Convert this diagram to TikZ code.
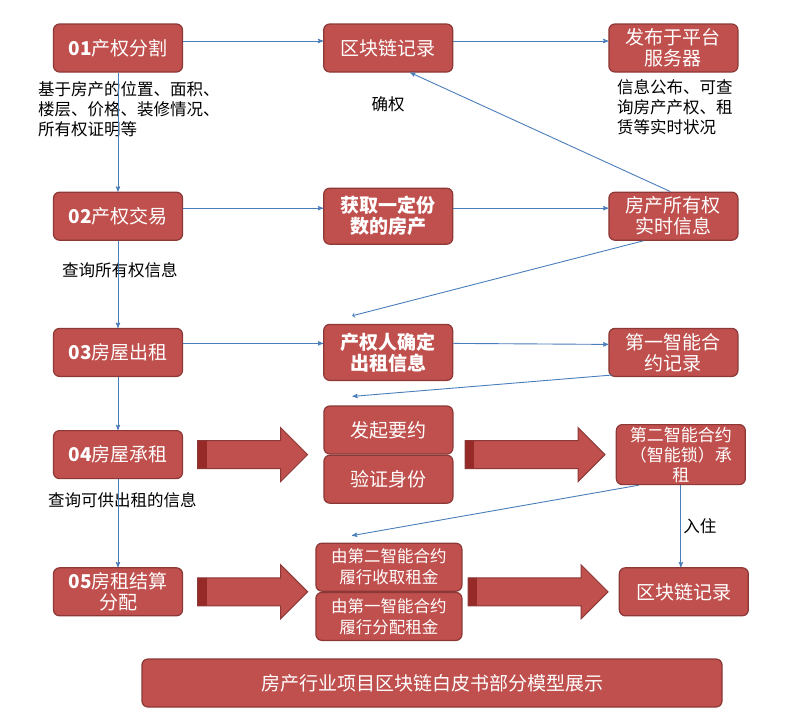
\documentclass[tikz,border=0pt]{standalone}
\usepackage{fontspec}
\setmainfont{Noto Sans CJK SC}
\usetikzlibrary{arrows,positioning,shapes.arrows}
\definecolor{boxred}{RGB}{192,80,77}
\definecolor{boxedge}{RGB}{140,56,54}
\definecolor{tailred}{RGB}{150,42,40}
\definecolor{linkblue}{RGB}{74,126,187}

\begin{document}
\begin{tikzpicture}[x=1pt,y=-1pt,>=stealth']
  \tikzstyle{box}=[draw=boxedge,fill=boxred,text=white,rounded corners=6pt,
                   line width=1.2pt,minimum width=129pt,minimum height=48pt,
                   inner sep=1pt,align=center,font=\fontsize{19}{21}\selectfont]
  \tikzstyle{note}=[text=black,align=left,inner sep=0pt,
                    font=\fontsize{16.5}{20}\selectfont]
  \tikzstyle{bigarrow}=[single arrow,draw=boxedge,fill=boxred,line width=1pt,
                        inner sep=13.5pt,single arrow head extend=13pt,
                        path picture={\fill[tailred] (path picture bounding box.south west)
                          rectangle ([xshift=9pt]path picture bounding box.north west);}]
  \tikzstyle{link}=[->,linkblue,line width=0.9pt]
  \useasboundingbox (0,0) rectangle (808,721);

  % left column
  \node[box] (b01) at (118,48) {\textbf{01}产权分割};
  \node[box] (b02) [below=119pt of b01] {\textbf{02}产权交易};
  \node[box] (b03) [below=87pt of b02] {\textbf{03}房屋出租};
  \node[box] (b04) [below=53pt of b03] {\textbf{04}房屋承租};
  \node[box] (b05) [below=88pt of b04] {\textbf{05}房租结算\\分配};

  % rows 1 to 3
  \node[box] (chainA) [right=140pt of b01] {区块链记录};
  \node[box] (publish) [right=155pt of chainA] {发布于平台\\服务器};
  \node[box,minimum height=56pt] (obtain) [right=140pt of b02]
    {\bfseries 获取一定份\\\bfseries 数的房产};
  \node[box] (realinfo) [right=155pt of obtain] {房产所有权\\实时信息};
  \node[box,minimum height=56pt] (confirm) [right=140pt of b03]
    {\bfseries 产权人确定\\\bfseries 出租信息};
  \node[box] (rec1) [right=155pt of confirm] {第一智能合\\约记录};

  % row 4
  \node[bigarrow,minimum height=110pt] (arr1) [right=14pt of b04] {};
  \node[box,anchor=south west,minimum height=48pt] (offer)
    at ([xshift=15pt]arr1.tip) {发起要约};
  \node[box,minimum height=48pt] (verify) [below=0pt of offer] {验证身份};
  \node[bigarrow,minimum height=140pt] (arr2) [right=11pt of offer.south east] {};
  \node[box,minimum height=60pt,inner sep=0pt,font=\fontsize{17}{20}\selectfont]
    (sc2) [right=10pt of arr2] {第二智能合约\\（智能锁）承\\租};

  % row 5
  \node[bigarrow,minimum height=110pt] (arr3) [right=14pt of b05] {};
  \node[box,anchor=south west,minimum width=146pt,minimum height=48pt,
        font=\fontsize{16.5}{21}\selectfont] (collect)
    at ([xshift=7pt]arr3.tip) {由第二智能合约\\履行收取租金};
  \node[box,minimum width=146pt,minimum height=48pt,
        font=\fontsize{16.5}{21}\selectfont] (distribute)
    [below=0pt of collect] {由第一智能合约\\履行分配租金};
  \node[bigarrow,minimum height=140pt] (arr4) [right=5pt of collect.south east] {};
  \node[box] (chainB) [right=10pt of arr4] {区块链记录};

  \node[box,minimum width=580pt] (title) at (432,683)
    {房产行业项目区块链白皮书部分模型展示};

  % notes
  \node[note,anchor=north west] (info01) at (38,81)
    {基于房产的位置、面积、\\楼层、价格、装修情况、\\所有权证明等};
  \node[note] (rights) [below=24pt of chainA] {确权};
  \node[note,anchor=north west] (infopub) at (617,79)
    {信息公布、可查\\询房产产权、租\\赁等实时状况};
  \node[note,anchor=west] (query02) at (62,270) {查询所有权信息};
  \node[note,anchor=west] (query04) at (48,500) {查询可供出租的信息};

  % connectors
  \draw[link] (b01) -- (b02);
  \draw[link] (b02) -- (b03);
  \draw[link] (b03) -- (b04);
  \draw[link] (b04) -- (b05);
  \draw[link] ([yshift=7pt]b01.east) -- ([yshift=7pt]chainA.west);
  \draw[link] ([yshift=7pt]chainA.east) -- ([yshift=7pt]publish.west);
  \draw[link] ([yshift=8pt]b02.east) -- ([yshift=8pt]obtain.west);
  \draw[link] ([yshift=8pt]obtain.east) -- ([yshift=8pt]realinfo.west);
  \draw[link] ([yshift=9pt]b03.east) -- ([yshift=9pt]confirm.west);
  \draw[link] ([yshift=9pt]confirm.east) -- ([yshift=8pt]rec1.west);
  \draw[link] ([xshift=-3pt]realinfo.north) -- ([xshift=22pt]chainA.south);
  \draw[->,>=to,linkblue,line width=0.9pt] ([xshift=-30pt]realinfo.south)
    -- ([xshift=-36pt,yshift=8pt]confirm.north);
  \draw[link] ([xshift=4pt,yshift=2pt]rec1.south west)
    -- ([xshift=-36pt,yshift=9pt]offer.north);
  \draw[link] ([xshift=23pt]sc2.south west)
    -- ([xshift=-37pt,yshift=7pt]collect.north);
  \draw[link] (sc2.south) -- node[note,right=2pt] (movein) {入住}
    (sc2.south |- chainB.north);
\end{tikzpicture}
\end{document}
